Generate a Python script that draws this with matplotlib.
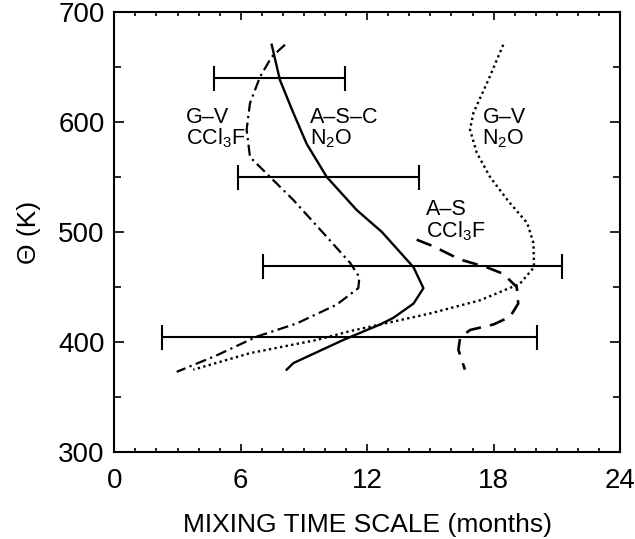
import numpy as np
import matplotlib.pyplot as plt
from matplotlib.ticker import MultipleLocator

plt.rcParams['font.family'] = ['Liberation Sans', 'DejaVu Sans']
plt.rcParams['mathtext.fontset'] = 'custom'
plt.rcParams['mathtext.rm'] = 'Liberation Sans'

# A-S-C N2O (solid)
asc_x = [7.47, 7.86, 8.5, 9.13, 10.08, 11.5, 12.7, 14.2, 14.67, 14.2, 13.24, 12.61, 10.87, 8.5, 8.18]
asc_y = [670, 638, 608, 580, 550, 520, 500, 468, 449, 435, 422, 416, 402, 381, 375]

# G-V CCl3F (dash-dot)
gvc_x = [8.1, 7.47, 6.92, 6.44, 6.28, 6.44, 7.39, 8.5, 9.92, 11.19, 11.63, 11.58, 10.55, 8.66, 6.76, 4.86, 2.96]
gvc_y = [670, 659, 641, 617, 593, 568, 550, 529, 499, 472, 459, 449, 434, 417, 405, 388, 373]

# G-V N2O (dotted)
gvn_x = [18.46, 17.75, 17.04, 16.88, 17.2, 17.83, 18.7, 19.6, 19.89, 19.92, 19.25, 17.36, 14.98, 13.56, 12.61, 11.19, 9.61, 6.44, 3.75]
gvn_y = [670, 638, 608, 593, 572, 550, 528, 508, 490, 468, 453, 438, 426, 420, 416, 410, 402, 390, 375]

# A-S CCl3F (dashed)
asf_x = [14.35, 15.14, 16.41, 17.67, 18.46, 19.1, 19.17, 18.78, 17.99, 16.88, 16.41, 16.33, 16.64]
asf_y = [493, 487, 475, 468, 462, 450, 435, 423, 416, 411, 404, 393, 375]

# horizontal error bars
bar_y = [640, 549.5, 469.5, 404.5]
bar_lo = [4.74, 5.89, 7.07, 2.25]
bar_hi = [10.95, 14.46, 21.23, 20.05]

fig = plt.figure(figsize=(6.35, 5.39), dpi=100)
ax = fig.add_axes([0.180, 0.1609, 0.7964, 0.8174])

ax.plot(asc_x, asc_y, color='black', lw=1.7, ls='-')
ax.plot(gvc_x, gvc_y, color='black', lw=1.6, ls=(0, (5, 2, 1, 2)))
ax.plot(gvn_x, gvn_y, color='black', lw=1.7, ls=(0, (1, 1.4)))
ax.plot(asf_x, asf_y, color='black', lw=1.9, ls=(0, (6, 3.5)))

lo = np.array(bar_lo)
hi = np.array(bar_hi)
ax.errorbar((lo + hi) / 2, bar_y, xerr=(hi - lo) / 2, fmt='none',
            ecolor='black', elinewidth=1.5, capsize=9, capthick=1.5)

fs = 15.5
kw = dict(va='center', ha='left', fontsize=fs, linespacing=0.95)
ax.text(3.4, 594, 'G–V\nCCl$_3$F', **kw)
ax.text(9.29, 594, 'A–S–C\nN$_2$O', **kw)
ax.text(17.47, 594, 'G–V\nN$_2$O', **kw)
ax.text(14.8, 510, 'A–S\nCCl$_3$F', **kw)

ax.set_xlim(0, 24)
ax.set_ylim(300, 700)
ax.xaxis.set_major_locator(MultipleLocator(6))
ax.xaxis.set_minor_locator(MultipleLocator(1))
ax.yaxis.set_major_locator(MultipleLocator(100))
ax.yaxis.set_minor_locator(MultipleLocator(50))
ax.tick_params(which='both', direction='in', top=True, right=True, width=1.2, labelsize=20)
ax.tick_params(axis='x', which='major', length=6, pad=11)
ax.tick_params(axis='x', which='minor', length=3)
ax.tick_params(axis='y', which='major', length=7, pad=7)
ax.tick_params(axis='y', which='minor', length=5)
for s in ax.spines.values():
    s.set_linewidth(1.5)

ax.set_xlabel('MIXING TIME SCALE (months)', fontsize=19, labelpad=14)
ax.set_ylabel('Θ (K)', fontsize=19, labelpad=12)

fig.savefig('out.png', dpi=100)
